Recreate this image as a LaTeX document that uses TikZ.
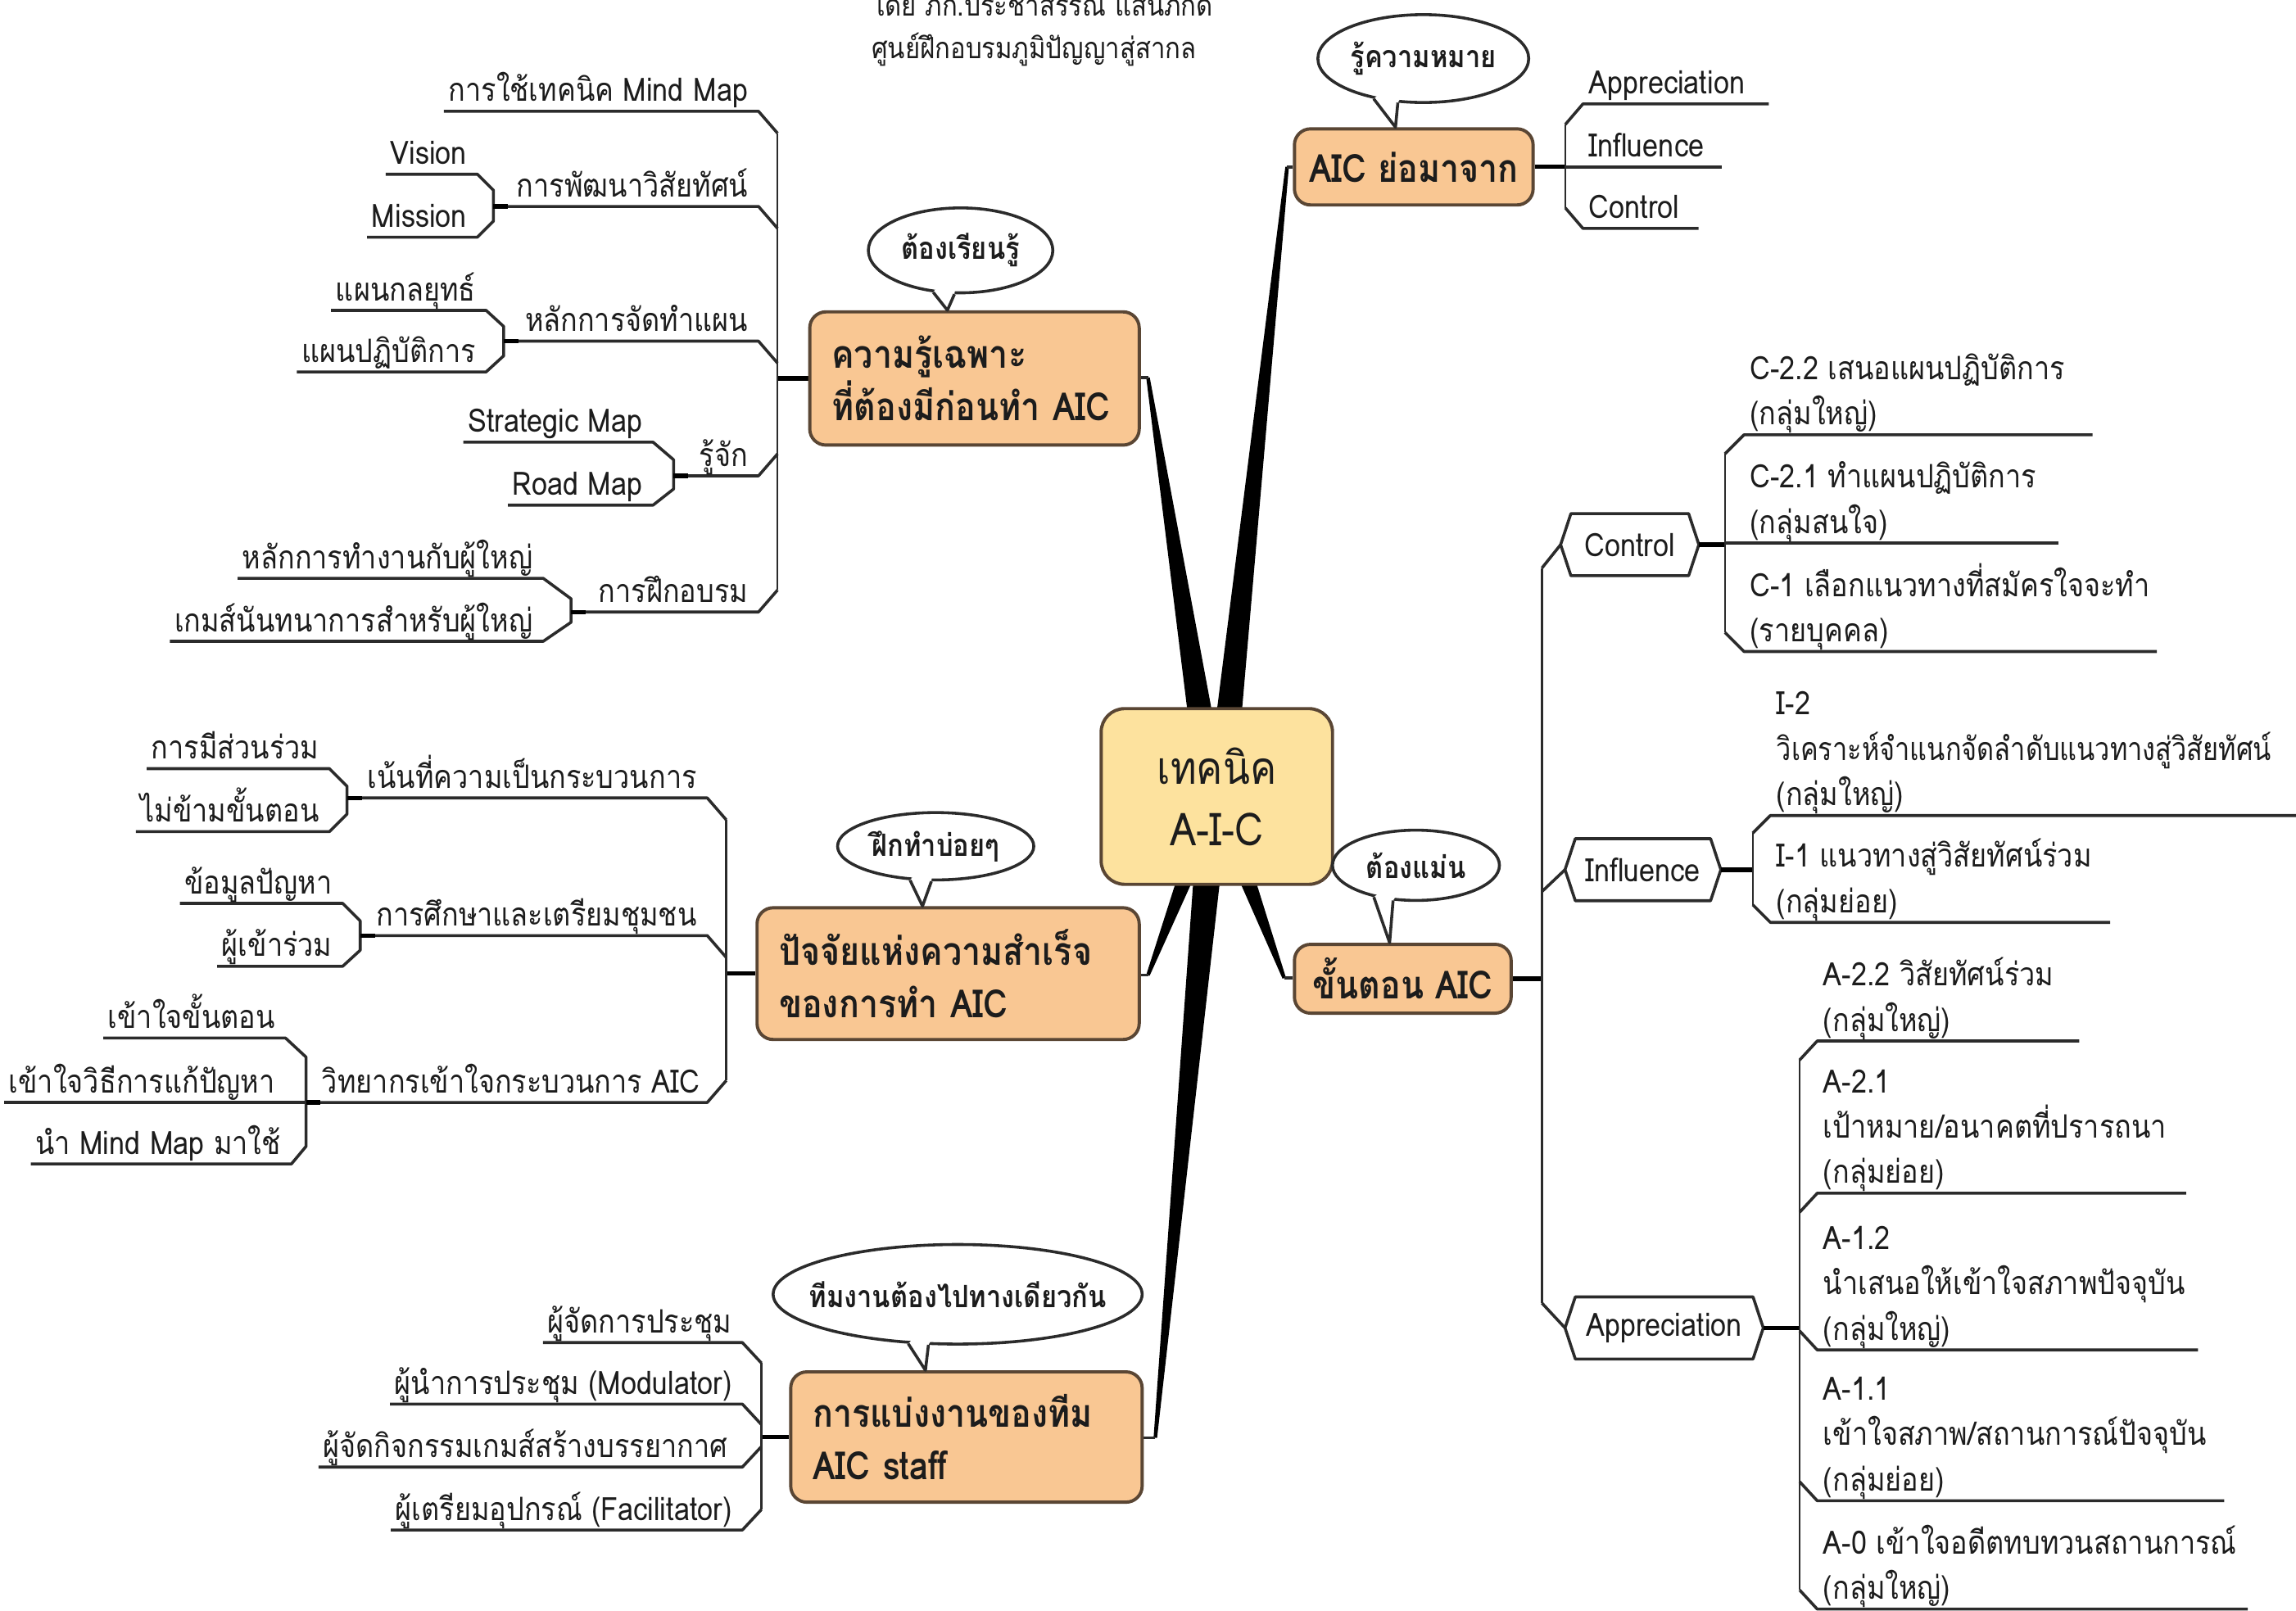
\documentclass[tikz,border=0pt]{standalone}
\usepackage{graphicx}
\usepackage{fontspec}
\setmainfont[Script=Thai, FakeStretch=0.87]{Loma}
\usetikzlibrary{calc,shapes.geometric}
\definecolor{boxfill}{HTML}{F9C793}
\definecolor{boxedge}{HTML}{5A4634}
\definecolor{cfill}{HTML}{FDE29E}
\definecolor{ln}{HTML}{2B2B2B}
\definecolor{txt}{HTML}{1C1C1C}
\pgfdeclarelayer{bg}
\pgfsetlayers{bg,main}
\newcommand\leaffont{\fontsize{22}{31}\selectfont}
\newcommand\boxfont{\bfseries\fontsize{26.5}{36}\selectfont}
\newcommand\bubfont{\bfseries\fontsize{21}{26}\selectfont}
\newcommand\mmwedge[4]{\fill[black] ($(#1)!#3!90:(#2)$) -- ($(#2)!#4!-90:(#1)$) -- ($(#2)!#4!90:(#1)$) -- ($(#1)!#3!-90:(#2)$) -- cycle;}
\newcommand\mmtail[4]{% ellipse, angle1, angle2, tip
  \fill[white] ($(#1.center)!0.85!(#1.#2)$) -- (#1.#2) -- (#4) -- (#1.#3) -- ($(#1.center)!0.85!(#1.#3)$) -- cycle;
  \draw[ln, line width=2pt, line join=round] (#1.#2) -- (#4) -- (#1.#3);}
\begin{document}
\begin{tikzpicture}[x=1pt,y=-1pt,
  lf/.style={inner sep=0pt, text depth=6.5pt, text height=17pt, font=\leaffont, text=txt},
  ml/.style={inner sep=0pt, text depth=6.5pt, font=\leaffont, text=txt, anchor=south west},
  ul/.style={draw=ln, line width=2pt, line join=round},
  sp/.style={draw=ln, line width=1.4pt},
  stub/.style={draw=black, line width=3pt},
  mainbox/.style={draw=boxedge, line width=2.2pt, fill=boxfill, rounded corners=11pt, inner xsep=15pt, inner ysep=0pt, align=left, font=\boxfont, text=txt},
  hexn/.style={inner xsep=0pt, inner ysep=0pt, minimum height=42pt, font=\leaffont, text=txt},
  hexd/.style={draw=ln, line width=2pt, fill=white, line join=round},
  bub/.style={ellipse, draw=ln, line width=2pt, fill=white, inner sep=0pt},
  bubt/.style={font=\bubfont, text=txt, inner sep=0pt},
]
\useasboundingbox (0,0) rectangle (1568,1100);

% ---------- title ----------
\node[anchor=base west, inner sep=0pt, font=\fontsize{20}{23}\selectfont, text=txt] (t1) at (595,11) {โดย ภก.ประชาสรรณ์ แสนภักดี};
\node[anchor=base west, inner sep=0pt, font=\fontsize{20}{23}\selectfont, text=txt] (t2) at (595,40) {ศูนย์ฝึกอบรมภูมิปัญญาสู่สากล};

% ---------- main boxes ----------
\node[draw=boxedge, line width=2.2pt, fill=cfill, rounded corners=16pt, minimum width=158pt, minimum height=120pt, align=center, font=\fontsize{31}{42}\selectfont, text=txt] (C) at (831,544) {เทคนิค\\A-I-C};
\node[mainbox, inner xsep=0pt, align=center, minimum width=163pt, minimum height=52pt] (B1) at (965.5,114) {AIC ย่อมาจาก};
\node[mainbox, text width=195pt, minimum height=91pt] (B2) at (665.5,258.5) {\mbox{ความรู้เฉพาะ}\\\mbox{ที่ต้องมีก่อนทำ AIC}};
\node[mainbox, text width=231pt, minimum height=90pt] (B3) at (647.5,665) {\mbox{ปัจจัยแห่งความสำเร็จ}\\\mbox{ของการทำ AIC}};
\node[mainbox, text width=210pt, minimum height=89pt] (B4) at (660,981.5) {\mbox{การแบ่งงานของทีม}\\\mbox{AIC staff}};
\node[mainbox, inner xsep=0pt, align=center, minimum width=148pt, minimum height=47pt] (B5) at (958,668.5) {ขั้นตอน AIC};

% ---------- callouts ----------
\node[bub, minimum width=144pt, minimum height=60pt] (E1) at (972,40) {};
\node[bubt] (E1t) at (E1.center) {รู้ความหมาย};
\node[bub, minimum width=126pt, minimum height=58pt] (E2) at (656,171) {};
\node[bubt] (E2t) at (E2.center) {ต้องเรียนรู้};
\node[bub, minimum width=134pt, minimum height=46pt] (E3) at (639,578) {};
\node[bubt] (E3t) at (E3.center) {ฝึกทำบ่อยๆ};
\node[bub, minimum width=114pt, minimum height=48pt] (E4) at (967,591) {};
\node[bubt] (E4t) at (E4.center) {ต้องแม่น};
\node[bub, minimum width=252pt, minimum height=68pt] (E5) at (654,884) {};
\node[bubt] (E5t) at (E5.center) {ทีมงานต้องไปทางเดียวกัน};
\coordinate (E1tip) at ([xshift=-12.5pt]B1.north);
\coordinate (E2tip) at ([xshift=-18.5pt]B2.north);
\coordinate (E3tip) at ([xshift=-17.5pt]B3.north);
\coordinate (E4tip) at ([xshift=-9pt]B5.north);
\coordinate (E5tip) at ([xshift=-28pt]B4.north);
\mmtail{E1}{219}{240}{E1tip}
\mmtail{E2}{237}{262}{E2tip}
\mmtail{E3}{233}{263}{E3tip}
\mmtail{E4}{217}{237}{E4tip}
\mmtail{E5}{225}{240}{E5tip}

% ---------- hexagons ----------
\node[hexn, minimum width=94pt] (hC) at (1113,372) {Control};
\node[hexn, minimum width=106pt] (hI) at (1122,594) {Influence};
\node[hexn, minimum width=135pt] (hA) at (1136.5,907) {Appreciation};

% ---------- left leaves: group B2 ----------
\node[lf, anchor=south east] (k1) at (511,76) {การใช้เทคนิค Mind Map};
\node[lf, anchor=south east] (k2) at (511,141) {การพัฒนาวิสัยทัศน์};
\node[lf, anchor=south east] (k2a) at (319,119) {Vision};
\node[lf, anchor=south east] (k2b) at (319,162) {Mission};
\node[lf, anchor=south east] (k3) at (511,233) {หลักการจัดทำแผน};
\node[lf, anchor=south east] (k3a) at (325,212) {แผนกลยุทธ์};
\node[lf, anchor=south east] (k3b) at (325,254) {แผนปฏิบัติการ};
\node[lf, anchor=south east] (k4) at (511,325) {รู้จัก};
\node[lf, anchor=south east] (k4a) at (439,302) {Strategic Map};
\node[lf, anchor=south east] (k4b) at (439,345) {Road Map};
\node[lf, anchor=south east] (k5) at (511,418) {การฝึกอบรม};
\node[lf, anchor=south east] (k5a) at (364,395) {หลักการทำงานกับผู้ใหญ่};
\node[lf, anchor=south east] (k5b) at (364,438) {เกมส์นันทนาการสำหรับผู้ใหญ่};

% ---------- left leaves: group B3 ----------
\node[lf, anchor=south east] (p1) at (476,545) {เน้นที่ความเป็นกระบวนการ};
\node[lf, anchor=south east] (p1a) at (218,525) {การมีส่วนร่วม};
\node[lf, anchor=south east] (p1b) at (218,568) {ไม่ข้ามขั้นตอน};
\node[lf, anchor=south east] (p2) at (476,639) {การศึกษาและเตรียมชุมชน};
\node[lf, anchor=south east] (p2a) at (227,617) {ข้อมูลปัญหา};
\node[lf, anchor=south east] (p2b) at (227,660) {ผู้เข้าร่วม};
\node[lf, anchor=south east] (p3) at (478,753) {วิทยากรเข้าใจกระบวนการ AIC};
\node[lf, anchor=south east] (p3a) at (188,709) {เข้าใจขั้นตอน};
\node[lf, anchor=south east] (p3b) at (188,753) {เข้าใจวิธีการแก้ปัญหา};
\node[lf, anchor=south east] (p3c) at (192,795) {นำ Mind Map มาใช้};

% ---------- left leaves: group B4 ----------
\node[lf, anchor=south east] (s1) at (500,917) {ผู้จัดการประชุม};
\node[lf, anchor=south east] (s2) at (500,959) {ผู้นำการประชุม (Modulator)};
\node[lf, anchor=south east] (s3) at (497,1002) {ผู้จัดกิจกรรมเกมส์สร้างบรรยากาศ};
\node[lf, anchor=south east] (s4) at (500,1045) {ผู้เตรียมอุปกรณ์ (Facilitator)};

% ---------- right leaves: group B1 ----------
\node[lf, anchor=south west] (a1) at (1085,71) {Appreciation};
\node[lf, anchor=south west] (a2) at (1085,114) {Influence};
\node[lf, anchor=south west] (a3) at (1085,156) {Control};

% ---------- right leaves: Control ----------
\node[ml] (c1) at (1195,297) {\vbox{\hbox{C-2.2 เสนอแผนปฏิบัติการ}\hbox{(กลุ่มใหญ่)}}};
\node[ml] (c2) at (1195,371) {\vbox{\hbox{C-2.1 ทำแผนปฏิบัติการ}\hbox{(กลุ่มสนใจ)}}};
\node[ml] (c3) at (1195,445) {\vbox{\hbox{C-1 เลือกแนวทางที่สมัครใจจะทำ}\hbox{(รายบุคคล)}}};

% ---------- right leaves: Influence ----------
\node[ml] (i1) at (1213,557) {\vbox{\hbox{I-2}\hbox{\scalebox{0.95}[1]{วิเคราะห์จำแนกจัดลำดับแนวทางสู่วิสัยทัศน์}}\hbox{(กลุ่มใหญ่)}}};
\node[ml] (i2) at (1213,630) {\vbox{\hbox{I-1 แนวทางสู่วิสัยทัศน์ร่วม}\hbox{(กลุ่มย่อย)}}};

% ---------- right leaves: Appreciation ----------
\node[ml] (r1) at (1245,711) {\vbox{\hbox{A-2.2 วิสัยทัศน์ร่วม}\hbox{(กลุ่มใหญ่)}}};
\node[ml] (r2) at (1245,815) {\vbox{\hbox{A-2.1}\hbox{เป้าหมาย/อนาคตที่ปรารถนา}\hbox{(กลุ่มย่อย)}}};
\node[ml] (r3) at (1245,922) {\vbox{\hbox{A-1.2}\hbox{นำเสนอให้เข้าใจสภาพปัจจุบัน}\hbox{(กลุ่มใหญ่)}}};
\node[ml] (r4) at (1245,1025) {\vbox{\hbox{A-1.1}\hbox{เข้าใจสภาพ/สถานการณ์ปัจจุบัน}\hbox{(กลุ่มย่อย)}}};
\node[ml] (r5) at (1245,1099) {\vbox{\hbox{A-0 เข้าใจอดีตทบทวนสถานการณ์}\hbox{(กลุ่มใหญ่)}}};

\begin{pgfonlayer}{bg}
% ---------- tapered branches ----------
\mmwedge{823,510}{784,258}{9pt}{1.2pt}
\mmwedge{837,510}{879,114}{9pt}{1.2pt}
\mmwedge{817,580}{784,666}{6.5pt}{1.2pt}
\mmwedge{826,580}{789,982}{9.5pt}{1.2pt}
\mmwedge{844,580}{877,668}{6.5pt}{1.2pt}
\draw[ln, line width=2pt] (784,258) -- (B2.east |- 0,258);
\draw[ln, line width=2pt] (879,114) -- (B1.west);
\draw[ln, line width=2pt] (784,666) -- (B3.east |- 0,666);
\draw[ln, line width=2pt] (789,982) -- (B4.east |- 0,982);
\draw[ln, line width=2pt] (877,668) -- (B5.west |- 0,668);

% ---------- hexagon outlines ----------
\foreach \h in {hC,hI,hA}{
  \draw[hexd] (\h.west) -- ([xshift=7pt]\h.north west) -- ([xshift=-7pt]\h.north east) -- (\h.east) -- ([xshift=-7pt]\h.south east) -- ([xshift=7pt]\h.south west) -- cycle;
}

% ---------- group B2 lines ----------
\draw[stub] (531,258.5) -- (B2.west);
\draw[sp] (531,91) -- (531,403);
\draw[ul] ([xshift=-3pt]k1.south west) -- (518,76) -- (531,91);
\draw[ul] (337,141) -- (518,141) -- (531,156);
\draw[ul] (344,233) -- (518,233) -- (531,248);
\draw[ul] (460,325) -- (518,325) -- (531,310);
\draw[ul] (390,418) -- (518,418) -- (531,403);
\draw[ul] ([xshift=-3pt]k2a.south west) -- ([xshift=7pt]k2a.south east) -- (337,130) -- (337,151) -- ([xshift=7pt]k2b.south east) -- ([xshift=-3pt]k2b.south west);
\draw[stub] (337,141) -- (347,141);
\draw[ul] ([xshift=-3pt]k3a.south west) -- ([xshift=7pt]k3a.south east) -- (344,223) -- (344,243) -- ([xshift=7pt]k3b.south east) -- ([xshift=-3pt]k3b.south west);
\draw[stub] (344,233) -- (354,233);
\draw[ul] ([xshift=-3pt]k4a.south west) -- ([xshift=7pt]k4a.south east) -- (460,314) -- (460,334) -- ([xshift=7pt]k4b.south east) -- ([xshift=-3pt]k4b.south west);
\draw[stub] (460,325) -- (470,325);
\draw[ul] ([xshift=-3pt]k5a.south west) -- ([xshift=7pt]k5a.south east) -- (390,409) -- (390,425) -- ([xshift=7pt]k5b.south east) -- ([xshift=-3pt]k5b.south west);
\draw[stub] (390,418) -- (400,418);

% ---------- group B3 lines ----------
\draw[stub] (496,665) -- (B3.west);
\draw[sp] (496,560) -- (496,738);
\draw[ul] (237,545) -- (483,545) -- (496,560);
\draw[ul] (246,639) -- (483,639) -- (496,654);
\draw[ul] (209,753) -- (483,753) -- (496,738);
\draw[ul] ([xshift=-3pt]p1a.south west) -- ([xshift=7pt]p1a.south east) -- (237,537) -- (237,556) -- ([xshift=7pt]p1b.south east) -- ([xshift=-3pt]p1b.south west);
\draw[stub] (237,545) -- (247,545);
\draw[ul] ([xshift=-3pt]p2a.south west) -- ([xshift=7pt]p2a.south east) -- (246,629) -- (246,649) -- ([xshift=7pt]p2b.south east) -- ([xshift=-3pt]p2b.south west);
\draw[stub] (246,639) -- (256,639);
\draw[ul] ([xshift=-3pt]p3a.south west) -- ([xshift=7pt]p3a.south east) -- (209,722) -- (209,783) -- ([xshift=7pt]p3c.south east) -- ([xshift=-3pt]p3c.south west);
\draw[ul] ([xshift=-3pt]p3b.south west) -- (209,753);
\draw[stub] (209,753) -- (219,753);

% ---------- group B4 lines ----------
\draw[stub] (520,981.5) -- (B4.west);
\draw[sp] (520,931) -- (520,1031);
\draw[ul] ([xshift=-3pt]s1.south west) -- (507,917) -- (520,931);
\draw[ul] ([xshift=-3pt]s2.south west) -- (507,959) -- (520,973);
\draw[ul] ([xshift=-3pt]s3.south west) -- (507,1002) -- (520,988);
\draw[ul] ([xshift=-3pt]s4.south west) -- (507,1045) -- (520,1031);

% ---------- group B1 lines ----------
\draw[stub] (B1.east) -- (1069,114);
\draw[sp] (1069,85) -- (1069,142);
\draw[ul] (1069,85) -- (1081,71) -- (1208,71);
\draw[ul] (1069,114) -- (1176,114);
\draw[ul] (1069,142) -- (1081,156) -- (1160,156);

% ---------- group B5 lines ----------
\draw[stub] (B5.east) -- (1053,668.5);
\draw[sp] (1053,388) -- (1053,890);
\draw[ul] (1053,388) -- (hC.west);
\draw[ul] (1053,609) -- (hI.west);
\draw[ul] (1053,890) -- (hA.west);

% Control children
\draw[stub] (hC.east) -- (1178,372);
\draw[sp] (1178,310) -- (1178,432);
\draw[ul] (1178,310) -- (1191,297) -- (1429,297);
\draw[ul] (1178,371) -- (1406,371);
\draw[ul] (1178,432) -- (1191,445) -- (1473,445);

% Influence children
\draw[stub] (hI.east) -- (1197,594);
\draw[sp] (1197,569) -- (1197,618);
\draw[ul] (1197,569) -- (1209,557) -- (1572,557);
\draw[ul] (1197,618) -- (1209,630) -- (1441,630);

% Appreciation children
\draw[stub] (hA.east) -- (1229,907);
\draw[sp] (1229,724) -- (1229,1086);
\draw[ul] (1229,724) -- (1241,711) -- (1420,711);
\draw[ul] (1229,828) -- (1241,815) -- (1493,815);
\draw[ul] (1229,909) -- (1241,922) -- (1501,922);
\draw[ul] (1229,1012) -- (1241,1025) -- (1519,1025);
\draw[ul] (1229,1086) -- (1241,1099) -- (1535,1099);
\end{pgfonlayer}
\end{tikzpicture}
\end{document}
